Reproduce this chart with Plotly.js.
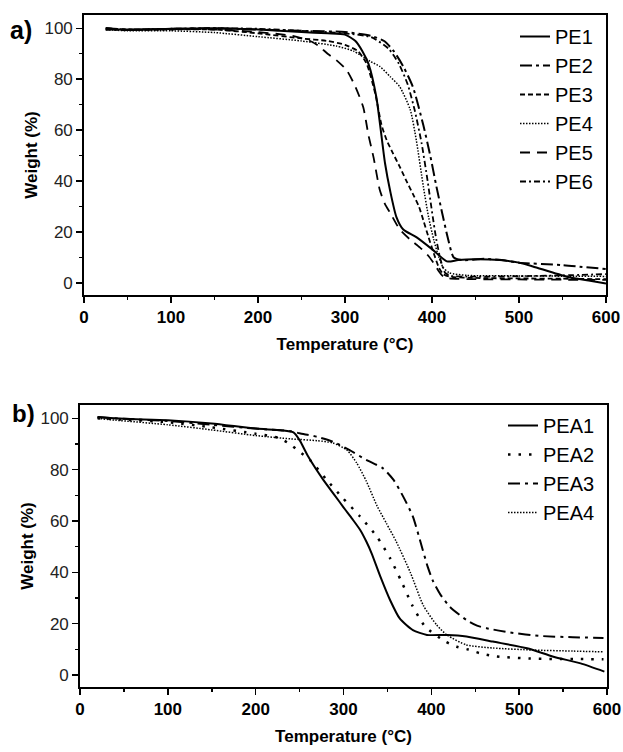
<!DOCTYPE html>
<html>
<head>
<meta charset="utf-8">
<script src="https://cdn.plot.ly/plotly-3.0.1.min.js"></script>
<style>html,body{margin:0;padding:0;background:#fff;}#chart{width:623px;height:752px;}</style>
</head>
<body>
<div id="chart"></div>
<script>
// ---- Panel a) PE series ----
const pe1T = [25, 50, 100, 150, 200, 250, 280, 300, 312, 320, 327, 336, 346, 352, 359, 367, 382, 401, 417, 430, 448, 478, 500, 516, 555, 580, 600];
const pe1W = [100, 99.3, 99.8, 100, 99.5, 98.5, 98, 97.5, 95, 91, 86, 73, 47, 36, 26, 21, 18, 13, 8.5, 9, 9.3, 9, 8, 6.5, 2.5, 1, -0.2];
const pe2T = [25, 50, 100, 150, 200, 250, 300, 330, 345, 356, 367, 378, 390, 398, 405, 412, 418, 425, 435, 460, 480, 500, 550, 600];
const pe2W = [100, 99.5, 99.7, 100, 99.5, 99, 98.5, 97, 95, 91, 85, 77, 62, 50, 38, 27, 18, 10, 9, 9.5, 9, 8, 7, 5.5];
const pe3T = [25, 50, 100, 150, 200, 250, 280, 300, 315, 325, 335, 342, 348, 355, 363, 370, 378, 385, 390, 396, 402, 408, 413, 420, 450, 500, 550, 600];
const pe3W = [99.5, 99.3, 99.5, 99.5, 98, 96, 95, 93.5, 91, 86, 74, 62, 56, 51, 45.6, 40.5, 35, 30, 24.7, 18, 11.7, 6, 3.5, 2.5, 2, 1.8, 1.7, 1.5];
const pe4T = [25, 50, 100, 150, 200, 250, 290, 310, 329, 340, 352, 363, 375, 382, 390, 396, 402, 408, 413, 420, 440, 500, 600];
const pe4W = [99.5, 99, 99, 98.3, 96.7, 95, 93, 91, 87, 85, 81, 77, 68, 56, 38, 26, 17, 10, 6, 4, 3, 2.8, 2.6];
const pe5T = [25, 50, 100, 150, 200, 240, 260, 270, 280, 290, 302, 312, 321, 327, 333, 340, 346, 352, 363, 375, 386, 395, 402, 408, 413, 420, 450, 500, 600];
const pe5W = [99.5, 99.5, 99.8, 99.5, 98.5, 97, 95, 93, 90, 87.5, 83.5, 77, 69, 58, 49, 36.5, 31, 27.5, 21, 17, 14, 11, 7.8, 4.5, 2.5, 1.8, 1.5, 1.4, 1.2];
const pe6T = [25, 50, 100, 150, 200, 250, 300, 330, 350, 362, 372, 380, 388, 395, 400, 405, 410, 415, 422, 440, 500, 550, 600];
const pe6W = [100, 99.5, 99.8, 100, 99.8, 99, 98, 96.5, 92, 86, 78, 68, 55, 40, 28, 17, 9, 4, 2.8, 2.5, 2.7, 3, 3.5];

// ---- Panel b) PEA series ----
const pea1T = [20, 50, 100, 150, 200, 230, 243, 250, 260, 277, 290, 300, 310, 319, 326, 332, 342, 353, 364, 379, 395, 418, 440, 470, 509, 539, 570, 597];
const pea1W = [100.5, 99.8, 99.3, 98, 96, 95.3, 94.5, 91.5, 85, 76, 70, 65.3, 60.8, 56.5, 52, 47.4, 38.3, 29.2, 22, 17.5, 15.6, 15.6, 15, 13, 10.4, 7.1, 4.5, 1.3];
const pea2T = [20, 50, 100, 150, 200, 225, 237, 250, 262, 280, 299, 319, 338, 353, 366, 378, 393, 416, 429, 442, 455, 470, 485, 512, 540, 570, 596];
const pea2W = [100, 99.5, 98.5, 96.5, 94, 92.5, 90.4, 87, 83.7, 76.4, 69, 61.7, 53.9, 45.5, 36.4, 27.3, 18.8, 13, 11, 9.9, 8.5, 7.4, 6.9, 6.4, 6.2, 6.2, 6.1];
const pea3T = [20, 50, 100, 150, 200, 240, 250, 270, 288, 307, 326, 345, 357, 368, 379, 390, 396, 402, 410, 421, 440, 452, 463, 490, 524, 561, 596];
const pea3W = [100.5, 99.8, 99, 97.5, 96, 95, 94.2, 92.8, 90.9, 87.6, 83.8, 80.5, 76, 69.5, 61.7, 49, 42, 36.5, 31.5, 26.6, 21.4, 19.2, 18.2, 16.5, 15.2, 14.7, 14.4];
const pea4T = [20, 40, 100, 150, 200, 240, 270, 288, 304, 315, 326, 338, 349, 360, 376, 391, 406, 418, 440, 470, 516, 561, 596];
const pea4W = [100, 99.3, 97.5, 95.5, 93.3, 92, 91.3, 90.4, 87.6, 82.6, 75.5, 66, 59, 52, 40, 27, 19.5, 15.5, 11.7, 10.5, 9.7, 9.3, 9];

const tickVals = [0, 100, 200, 300, 400, 500, 600];
const yTickVals = [0, 20, 40, 60, 80, 100];

const W = 623, H = 752;
const FONT = 'Arial, "Liberation Sans", Helvetica, sans-serif';

function tr(x, y, name, dash, width, xa, ya, leg) {
  return {x: x, y: y, name: name, type: 'scatter', mode: 'lines',
    line: {color: '#000', width: width, dash: dash, shape: 'spline', smoothing: 0.6},
    xaxis: xa, yaxis: ya, legend: leg, hoverinfo: 'skip'};
}

const data = [
  tr(pe1T, pe1W, 'PE1', 'solid', 2, 'x', 'y', 'legend'),
  tr(pe2T, pe2W, 'PE2', '12px,4px,3px,4px', 2, 'x', 'y', 'legend'),
  tr(pe3T, pe3W, 'PE3', '5px,3px', 1.8, 'x', 'y', 'legend'),
  tr(pe4T, pe4W, 'PE4', '1.5px,1.5px', 1.5, 'x', 'y', 'legend'),
  tr(pe5T, pe5W, 'PE5', '10px,7px', 1.8, 'x', 'y', 'legend'),
  tr(pe6T, pe6W, 'PE6', '6px,3px,2px,3px', 1.8, 'x', 'y', 'legend'),
  tr(pea1T, pea1W, 'PEA1', 'solid', 2, 'x2', 'y2', 'legend2'),
  tr(pea2T, pea2W, 'PEA2', '2.5px,8px', 2.5, 'x2', 'y2', 'legend2'),
  tr(pea3T, pea3W, 'PEA3', '12px,5px,3px,5px', 2, 'x2', 'y2', 'legend2'),
  tr(pea4T, pea4W, 'PEA4', '1.5px,1.5px', 1.5, 'x2', 'y2', 'legend2')
];

function xax(domain, anchor) {
  return {domain: domain, anchor: anchor, range: [0, 600], tickvals: tickVals,
    showline: true, mirror: true, linecolor: '#000', linewidth: 1.8,
    ticks: 'outside', ticklen: 6, tickwidth: 1.5, tickcolor: '#000',
    minor: {dtick: 50, ticks: 'outside', ticklen: 3.5, tickwidth: 1.5, tickcolor: '#000'},
    showgrid: false, zeroline: false, automargin: false,
    tickfont: {family: FONT, size: 17, color: '#000', weight: 'bold'},
    title: {text: 'Temperature (°C)', standoff: 12, font: {family: FONT, size: 17, color: '#000', weight: 'bold'}}};
}
function yax(domain, anchor) {
  return {domain: domain, anchor: anchor, range: [-4.7, 105.2], tickvals: yTickVals,
    showline: true, mirror: true, linecolor: '#000', linewidth: 1.8,
    ticks: 'outside', ticklen: 6, tickwidth: 1.5, tickcolor: '#000',
    minor: {dtick: 10, ticks: 'outside', ticklen: 3.5, tickwidth: 1.5, tickcolor: '#000'},
    showgrid: false, zeroline: false, automargin: false,
    tickfont: {family: FONT, size: 17, color: '#222'},
    title: {text: 'Weight (%)', standoff: 2, font: {family: FONT, size: 17, color: '#000', weight: 'bold'}}};
}

const layout = {
  width: W, height: H,
  margin: {l: 0, r: 0, t: 0, b: 0},
  paper_bgcolor: '#fff', plot_bgcolor: '#fff',
  showlegend: true,
  xaxis: xax([84 / W, 606 / W], 'y'),
  yaxis: yax([1 - 295 / H, 1 - 15 / H], 'x'),
  xaxis2: xax([80 / W, 607 / W], 'y2'),
  yaxis2: yax([1 - 687 / H, 1 - 405 / H], 'x2'),
  legend: {x: 515 / W, y: 1 - 17 / H, xanchor: 'left', yanchor: 'top', bgcolor: 'rgba(0,0,0,0)',
    font: {family: FONT, size: 20, color: '#000'}, borderwidth: 0},
  legend2: {x: 503 / W, y: 1 - 406 / H, xanchor: 'left', yanchor: 'top', bgcolor: 'rgba(0,0,0,0)',
    font: {family: FONT, size: 20, color: '#000'}, borderwidth: 0},
  annotations: [
    {text: 'a)', xref: 'paper', yref: 'paper', x: 8 / W, y: 1 - 30 / H, xanchor: 'left', yanchor: 'middle',
      showarrow: false, font: {family: FONT, size: 25, color: '#000', weight: 'bold'}},
    {text: 'b)', xref: 'paper', yref: 'paper', x: 10 / W, y: 1 - 414 / H, xanchor: 'left', yanchor: 'middle',
      showarrow: false, font: {family: FONT, size: 24, color: '#000', weight: 'bold'}}
  ]
};

Plotly.newPlot('chart', data, layout, {staticPlot: true, displayModeBar: false});
</script>
</body>
</html>
